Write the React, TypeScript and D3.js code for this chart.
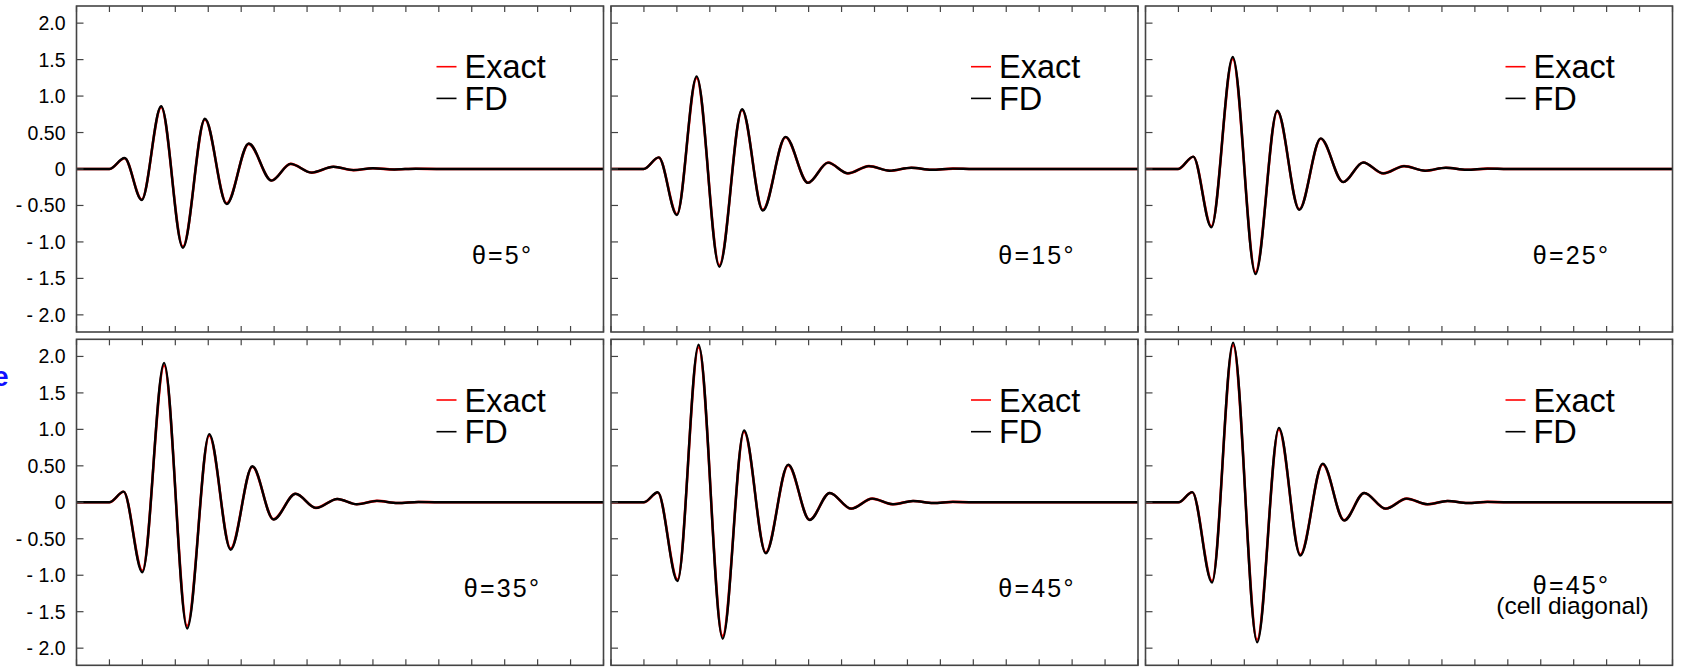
import React from 'react';
import { scaleLinear, line, curveMonotoneX, range } from 'd3';

const width = 1686;
const height = 670;
const colLefts = [76.5, 611, 1145.5];
const rowTops = [6, 339.3];
const panelW = 527;
const panelH = 326;
const fontFamily = '"Liberation Sans", Arial, sans-serif';

// axis ticks
const yTickValues = [2, 1.5, 1, 0.5, 0, -0.5, -1, -1.5, -2];
const yTickLabels = ['2.0', '1.5', '1.0', '0.50', '0', '- 0.50', '- 1.0', '- 1.5', '- 2.0'];
const xTickValues = range(0, 17);

const angleLabels = ['θ=5°', 'θ=15°', 'θ=25°', 'θ=35°', 'θ=45°', 'θ=45°'];
const angleNotes = ['', '', '', '', '', '(cell diagonal)'];
const legendLabels = ['Exact', 'FD'];
const legendColors = ['#ff0000', '#000000'];

// waveforms: x in tick units, value at each extremum
const theta5X = [0, 1.0, 1.46, 1.98, 2.57, 3.23, 3.9, 4.56, 5.23, 5.92, 6.5, 7.14, 7.8, 8.41, 9.0, 9.65, 10.3, 11, 16];
const theta5Fd = [0, 0, 0.15, -0.425, 0.86, -1.08, 0.69, -0.48, 0.35, -0.16, 0.07, -0.05, 0.03, -0.015, 0.01, -0.006, 0.004, 0, 0];
const theta5Exact = [0, 0, 0.148, -0.418, 0.848, -1.065, 0.68, -0.472, 0.345, -0.157, 0.07, -0.05, 0.03, -0.015, 0.01, -0.006, 0.004, 0, 0];

const theta15X = [0, 0.99, 1.45, 2.0, 2.6, 3.29, 3.98, 4.61, 5.3, 5.98, 6.59, 7.19, 7.83, 8.46, 9.12, 9.73, 10.38, 11, 16];
const theta15Fd = [0, 0, 0.16, -0.63, 1.27, -1.34, 0.82, -0.57, 0.44, -0.19, 0.087, -0.06, 0.04, -0.023, 0.018, -0.01, 0.005, 0, 0];
const theta15Exact = [0, 0, 0.158, -0.62, 1.25, -1.32, 0.81, -0.56, 0.435, -0.188, 0.087, -0.06, 0.04, -0.023, 0.018, -0.01, 0.005, 0, 0];

const theta25X = [0, 0.99, 1.45, 2.0, 2.65, 3.34, 4.0, 4.67, 5.32, 6.0, 6.61, 7.22, 7.85, 8.49, 9.12, 9.75, 10.38, 11, 16];
const theta25Fd = [0, 0, 0.17, -0.8, 1.535, -1.44, 0.8, -0.56, 0.42, -0.18, 0.09, -0.06, 0.04, -0.023, 0.018, -0.01, 0.005, 0, 0];
const theta25Exact = [0, 0, 0.168, -0.785, 1.51, -1.415, 0.79, -0.552, 0.415, -0.178, 0.09, -0.06, 0.04, -0.023, 0.018, -0.01, 0.005, 0, 0];

const theta35X = [0, 1.0, 1.43, 2.0, 2.66, 3.36, 4.03, 4.68, 5.34, 5.98, 6.65, 7.27, 7.92, 8.51, 9.12, 9.75, 10.38, 11, 16];
const theta35Fd = [0, 0, 0.146, -0.96, 1.91, -1.73, 0.935, -0.65, 0.495, -0.236, 0.118, -0.077, 0.046, -0.027, 0.019, -0.01, 0.005, 0, 0];
const theta35Exact = [0, 0, 0.144, -0.94, 1.875, -1.695, 0.915, -0.635, 0.488, -0.232, 0.117, -0.077, 0.046, -0.027, 0.019, -0.01, 0.005, 0, 0];

const theta45X = [0, 1.0, 1.42, 2.02, 2.66, 3.39, 4.04, 4.7, 5.38, 6.03, 6.64, 7.29, 7.93, 8.56, 9.17, 9.78, 10.38, 11, 16];
const theta45Fd = [0, 0, 0.137, -1.08, 2.16, -1.87, 0.986, -0.7, 0.516, -0.242, 0.128, -0.087, 0.05, -0.027, 0.018, -0.01, 0.006, 0, 0];
const theta45Exact = [0, 0, 0.135, -1.06, 2.125, -1.835, 0.968, -0.688, 0.51, -0.24, 0.127, -0.087, 0.05, -0.027, 0.018, -0.01, 0.006, 0, 0];

const diagX = [0, 1.0, 1.42, 2.02, 2.66, 3.39, 4.05, 4.7, 5.38, 6.03, 6.64, 7.29, 7.93, 8.56, 9.17, 9.78, 10.38, 11, 16];
const diagFd = [0, 0, 0.14, -1.1, 2.19, -1.92, 1.02, -0.73, 0.53, -0.25, 0.128, -0.087, 0.05, -0.027, 0.018, -0.01, 0.006, 0, 0];
const diagExact = [0, 0, 0.138, -1.08, 2.155, -1.885, 1.0, -0.715, 0.522, -0.247, 0.127, -0.087, 0.05, -0.027, 0.018, -0.01, 0.006, 0, 0];

const panels = [
  { x: theta5X, fd: theta5Fd, exact: theta5Exact },
  { x: theta15X, fd: theta15Fd, exact: theta15Exact },
  { x: theta25X, fd: theta25Fd, exact: theta25Exact },
  { x: theta35X, fd: theta35Fd, exact: theta35Exact },
  { x: theta45X, fd: theta45Fd, exact: theta45Exact },
  { x: diagX, fd: diagFd, exact: diagExact },
];

const xScale = scaleLinear().domain([0, 16]).range([0, panelW]);
const yScale = scaleLinear().domain([-2.235, 2.235]).range([panelH, 0]);

const wave = (xs: number[], ys: number[]) =>
  line<number>()
    .x(i => xScale(xs[i]))
    .y(i => yScale(ys[i]))
    .curve(curveMonotoneX)(xs.map((_, i) => i));

const Panel = ({ idx }: { idx: number }) => {
  const col = idx % 3;
  const row = Math.floor(idx / 3);
  const p = panels[idx];
  const frame = '#444';
  const hasNote = angleNotes[idx] !== '';
  return (
    <g transform={`translate(${colLefts[col]},${rowTops[row]})`}>
      <path d={wave(p.x, p.exact)} fill="none" stroke={legendColors[0]} strokeWidth={2.6} />
      <path d={wave(p.x, p.fd)} fill="none" stroke={legendColors[1]} strokeWidth={2.4} />

      <rect width={panelW} height={panelH} fill="none" stroke={frame} strokeWidth={1.6} />
      {yTickValues.map(v => (
        <line key={v} x1={0} x2={7} y1={yScale(v)} y2={yScale(v)} stroke={frame} strokeWidth={1.2} />
      ))}
      {xTickValues.map(v => (
        <g key={v}>
          <line x1={xScale(v)} x2={xScale(v)} y1={0} y2={6} stroke={frame} strokeWidth={1.2} />
          <line x1={xScale(v)} x2={xScale(v)} y1={panelH} y2={panelH - 6} stroke={frame} strokeWidth={1.2} />
        </g>
      ))}
      {col === 0 &&
        yTickValues.map((v, i) => (
          <text key={v} x={-11} y={yScale(v)} dy="0.36em" textAnchor="end" fontSize={19.5} fontFamily={fontFamily}>
            {yTickLabels[i]}
          </text>
        ))}

      {legendLabels.map((lab, i) => (
        <g key={lab} transform={`translate(360,${60.7 + i * 31.7})`}>
          <line x1={0} x2={20} y1={0} y2={0} stroke={legendColors[i]} strokeWidth={1.6} />
          <text x={28} y={11.6} fontSize={32.5} fontFamily={fontFamily}>
            {lab}
          </text>
        </g>
      ))}

      <text
        x={426}
        y={hasNote ? 255 : 258}
        textAnchor="middle"
        fontSize={25}
        letterSpacing={2.2}
        fontFamily={fontFamily}
      >
        {angleLabels[idx]}
      </text>
      {hasNote && (
        <text x={427} y={275} textAnchor="middle" fontSize={24.5} fontFamily={fontFamily}>
          {angleNotes[idx]}
        </text>
      )}
    </g>
  );
};

const App = () => (
  <svg width={width} height={height} style={{ position: 'absolute', left: 0, top: 0, background: '#fff' }}>
    <text x={-7} y={386} fontSize={28} fontWeight="bold" fill="#1010ff" fontFamily={fontFamily}>
      e
    </text>
    {panels.map((_, i) => (
      <Panel key={i} idx={i} />
    ))}
  </svg>
);

export default App;
